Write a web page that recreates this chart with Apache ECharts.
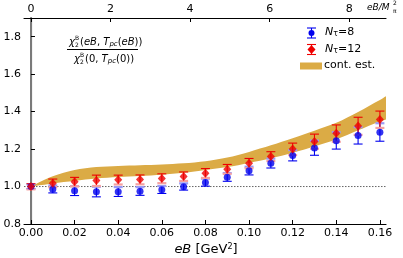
<!DOCTYPE html>
<html><head><meta charset="utf-8">
<script src="https://cdn.jsdelivr.net/npm/echarts@6/dist/echarts.min.js"></script>
<style>html,body{margin:0;padding:0;background:#fff}#c{width:403px;height:258px}</style>
</head><body><div id="c"></div>
<script>
// ---- data ----
const eB = [0,0.01,0.02,0.03,0.04,0.05,0.06,0.07,0.08,0.09,0.10,0.11,0.12,0.13,0.14,0.15,0.16];
const nt8 = [1.000,0.986,0.977,0.972,0.972,0.975,0.983,0.999,1.022,1.050,1.084,1.124,1.166,1.206,1.245,1.272,1.290];
const nt8Err = [0.012,0.020,0.025,0.027,0.025,0.022,0.020,0.018,0.020,0.022,0.022,0.025,0.029,0.039,0.045,0.045,0.048];
const nt12 = [1.000,1.018,1.025,1.032,1.036,1.037,1.043,1.054,1.071,1.093,1.124,1.161,1.200,1.241,1.284,1.323,1.358];
const nt12Err = [0.015,0.022,0.024,0.029,0.025,0.025,0.025,0.024,0.025,0.025,0.026,0.025,0.032,0.039,0.045,0.047,0.045];
const bandX = [0,0.005,0.01,0.02,0.03,0.04,0.05,0.06,0.07,0.08,0.09,0.10,0.11,0.12,0.13,0.14,0.15,0.16,0.1635];
const bandUpper = [1.0,1.030,1.055,1.088,1.104,1.110,1.114,1.118,1.124,1.135,1.155,1.185,1.220,1.258,1.298,1.340,1.398,1.462,1.482];
const bandLower = [1.0,1.008,1.016,1.031,1.043,1.051,1.056,1.063,1.073,1.088,1.104,1.126,1.151,1.181,1.214,1.251,1.300,1.349,1.366];
const xTicks = [0,0.02,0.04,0.06,0.08,0.10,0.12,0.14,0.16];
const topTicks = [0,2,4,6,8];
const yTicks = [0.8,1.0,1.2,1.4,1.6,1.8];
const refLine = 1.0;
const mpi2 = 0.01824; // GeV^2, eB/M_pi^2 conversion

const xMin = -0.0032, xMax = 0.1628;
const C_BAND = '#dbab45', C_BLUE = '#0000ee', C_RED = '#ee0000';
const C_LBLUE = '#9a9af5', C_LRED = '#f5a0a0';
const FONT = 'DejaVu Sans';

function errRender(dark, light, lightTop) {
  return function (params, api) {
    const x = api.value(0), y = api.value(1), e = api.value(2);
    const p = api.coord([x, y]);
    const pt = api.coord([x, y + e]);
    const pb = api.coord([x, y - e]);
    const hw = 4.5;
    const capT = {type:'line', shape:{x1:p[0]-hw,y1:pt[1],x2:p[0]+hw,y2:pt[1]},
      style: lightTop ? {stroke:light,lineWidth:2.2} : {stroke:dark,lineWidth:1.1}};
    const capB = {type:'line', shape:{x1:p[0]-hw,y1:pb[1],x2:p[0]+hw,y2:pb[1]},
      style: lightTop ? {stroke:dark,lineWidth:1.1} : {stroke:light,lineWidth:2.2}};
    return {type:'group', children:[
      {type:'line', shape:{x1:p[0],y1:pt[1],x2:p[0],y2:pb[1]}, style:{stroke:dark,lineWidth:1.1}},
      capT, capB
    ]};
  };
}

const sub = {fontStyle:'italic', fontSize:7, fontFamily:FONT, padding:[4,0,0,0]};
const ital = {fontStyle:'italic', fontSize:10, fontFamily:FONT};

const chart = echarts.init(document.getElementById('c'), null, {renderer:'canvas'});
const axisLine = {show:true, lineStyle:{color:'#000', width:1.1}};
chart.setOption({
  animation:false,
  backgroundColor:'#fff',
  grid:{left:24, right:17, top:18, bottom:34, show:false},
  xAxis:[{
    type:'value', min:xMin, max:xMax, position:'bottom',
    axisLine:axisLine, splitLine:{show:false},
    axisTick:{show:true, inside:true, length:4, customValues:xTicks, lineStyle:{color:'#000'}},
    axisLabel:{customValues:xTicks, color:'#000', fontFamily:FONT, fontSize:11, margin:4,
      formatter:v=>v.toFixed(2)}
  },{
    type:'value', min:xMin/mpi2, max:xMax/mpi2, position:'top',
    axisLine:axisLine, splitLine:{show:false},
    axisTick:{show:true, inside:true, length:4, customValues:topTicks, lineStyle:{color:'#000'}},
    axisLabel:{customValues:topTicks, color:'#000', fontFamily:FONT, fontSize:11, margin:3,
      formatter:v=>String(Math.round(v))}
  }],
  yAxis:[{
    type:'value', min:0.8, max:1.9, position:'left',
    axisLine:axisLine, splitLine:{show:false},
    axisTick:{show:true, inside:true, length:4, customValues:yTicks, lineStyle:{color:'#000'}},
    axisLabel:{customValues:yTicks, color:'#000', fontFamily:FONT, fontSize:11, margin:3,
      formatter:v=>v.toFixed(1)}
  },{
    type:'value', min:0.8, max:1.9, position:'right',
    axisLine:{show:true, lineStyle:{color:'#7a7a7a', width:2}},
    axisTick:{show:false}, axisLabel:{show:false}, splitLine:{show:false}
  }],
  series:[
    {
      type:'custom', name:'cont. est.', xAxisIndex:0, yAxisIndex:0, z:1,
      data:[[0]], clip:true,
      renderItem:function(params, api){
        const pts = [];
        for (let i=0;i<bandX.length;i++) pts.push(api.coord([bandX[i], bandUpper[i]]));
        for (let i=bandX.length-1;i>=0;i--) pts.push(api.coord([bandX[i], bandLower[i]]));
        return {type:'polygon', shape:{points:pts, smooth:0.3}, style:{fill:C_BAND}};
      }
    },
    {
      type:'line', xAxisIndex:0, yAxisIndex:0, data:[[xMin,refLine],[xMax,refLine]],
      symbol:'none', lineStyle:{color:'#666', width:1, type:[1.5,1.5]}, z:2, silent:true
    },
    {
      type:'custom', name:'err8', z:3, data:eB.map((x,i)=>[x,nt8[i],nt8Err[i]]),
      renderItem:errRender(C_BLUE, C_LBLUE, true)
    },
    {
      type:'custom', name:'err12', z:4, data:eB.map((x,i)=>[x,nt12[i],nt12Err[i]]),
      renderItem:errRender(C_RED, C_LRED, false)
    },
    {
      type:'scatter', name:'N8', z:5, data:eB.map((x,i)=>[x,nt8[i]]),
      symbol:'circle', symbolSize:7, itemStyle:{color:C_BLUE}
    },
    {
      type:'scatter', name:'N12', z:6, data:eB.map((x,i)=>[x,nt12[i]]),
      symbol:'diamond', symbolSize:[8,9], itemStyle:{color:C_RED}
    }
  ],
  graphic:[
    // x axis name
    {type:'text', x:206, y:243, style:{
      text:'{i|eB} [GeV{s|2}]', font:'13px '+FONT, fill:'#000', textAlign:'center',
      rich:{i:{fontStyle:'italic', fontSize:13, fontFamily:FONT}, s:{fontSize:8, fontFamily:FONT, padding:[0,0,6,0]}}
    }},
    // top axis name
    {type:'text', x:367, y:3, style:{text:'eB/M', font:'italic 9px '+FONT, fill:'#000'}},
    {type:'text', x:393, y:0, style:{text:'2', font:'6px '+FONT, fill:'#000'}},
    {type:'text', x:393, y:8, style:{text:'π', font:'6px '+FONT, fill:'#000'}},
    // ratio annotation
    {type:'text', x:69, y:37, style:{text:'χ', font:'italic 10px '+FONT, fill:'#000'}},
    {type:'text', x:75, y:35, style:{text:'B', font:'6px '+FONT, fill:'#000'}},
    {type:'text', x:75, y:42, style:{text:'2', font:'6px '+FONT, fill:'#000'}},
    {type:'text', x:80, y:37, style:{
      text:'({i|eB}, {i|T}{b|pc}({i|eB}))', font:'10px '+FONT, fill:'#000',
      rich:{i:ital, b:sub}
    }},
    {type:'line', shape:{x1:67, y1:49.5, x2:138, y2:49.5}, style:{stroke:'#000', lineWidth:1}},
    {type:'text', x:74, y:54, style:{text:'χ', font:'italic 10px '+FONT, fill:'#000'}},
    {type:'text', x:80, y:52, style:{text:'B', font:'6px '+FONT, fill:'#000'}},
    {type:'text', x:80, y:59, style:{text:'2', font:'6px '+FONT, fill:'#000'}},
    {type:'text', x:85, y:54, style:{
      text:'(0, {i|T}{b|pc}(0))', font:'10px '+FONT, fill:'#000',
      rich:{i:ital, b:sub}
    }},
    // legend: N_tau = 8
    {type:'line', shape:{x1:311.5,y1:28,x2:311.5,y2:38}, style:{stroke:C_BLUE,lineWidth:1.1}},
    {type:'line', shape:{x1:307,y1:28,x2:316,y2:28}, style:{stroke:C_BLUE,lineWidth:1.1}},
    {type:'line', shape:{x1:307,y1:38,x2:316,y2:38}, style:{stroke:C_BLUE,lineWidth:1.1}},
    {type:'circle', shape:{cx:311.5,cy:33,r:3}, style:{fill:C_BLUE}},
    {type:'text', x:325, y:26, style:{
      text:'{i|N}{b|τ}=8', font:'11px '+FONT, fill:'#000',
      rich:{i:{fontStyle:'italic', fontSize:11, fontFamily:FONT}, b:{fontSize:8, fontFamily:FONT, padding:[4,0,0,0]}}
    }},
    // legend: N_tau = 12
    {type:'line', shape:{x1:311.5,y1:44.5,x2:311.5,y2:54.5}, style:{stroke:C_RED,lineWidth:1.1}},
    {type:'line', shape:{x1:307,y1:44.5,x2:316,y2:44.5}, style:{stroke:C_RED,lineWidth:1.1}},
    {type:'line', shape:{x1:307,y1:54.5,x2:316,y2:54.5}, style:{stroke:C_RED,lineWidth:1.1}},
    {type:'polygon', shape:{points:[[311.5,45],[315.5,49.5],[311.5,54],[307.5,49.5]]}, style:{fill:C_RED}},
    {type:'text', x:325, y:43, style:{
      text:'{i|N}{b|τ}=12', font:'11px '+FONT, fill:'#000',
      rich:{i:{fontStyle:'italic', fontSize:11, fontFamily:FONT}, b:{fontSize:8, fontFamily:FONT, padding:[4,0,0,0]}}
    }},
    // legend: band
    {type:'rect', shape:{x:300,y:62.5,width:22,height:7}, style:{fill:C_BAND}},
    {type:'text', x:324, y:60, style:{text:'cont. est.', font:'11px '+FONT, fill:'#000'}}
  ]
});
</script></body></html>
